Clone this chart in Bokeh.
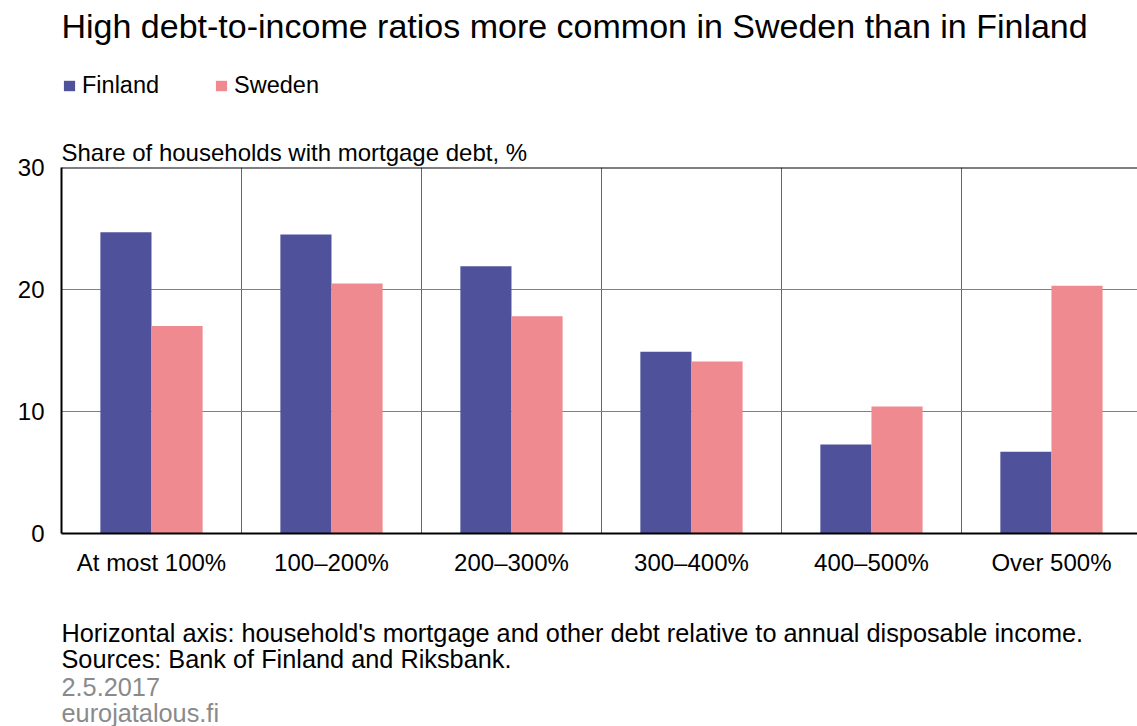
from bokeh.plotting import figure
from bokeh.layouts import column
from bokeh.models import Span, FixedTicker, Legend, LegendItem, Label
from bokeh.embed import file_html
from bokeh.resources import INLINE

categories = ["At most 100%", "100–200%", "200–300%", "300–400%", "400–500%", "Over 500%"]
finland = [24.7, 24.5, 21.9, 14.9, 7.3, 6.7]
sweden = [17.0, 20.5, 17.8, 14.1, 10.4, 20.3]
y_ticks = [0, 10, 20, 30]
series_names = ["Finland", "Sweden"]

title_text = "High debt-to-income ratios more common in Sweden than in Finland"
axis_title = "Share of households with mortgage debt, %"
footer_lines = ["Horizontal axis: household's mortgage and other debt relative to annual disposable income.",
                "Sources: Bank of Finland and Riksbank."]
footer_gray = ["2.5.2017", "eurojatalous.fi"]

FONT = "Liberation Sans"
BLUE = "#4F529B"
PINK = "#EF8A90"
W = 1137
H_HEAD, H_MAIN, H_FOOT = 130, 460, 136


def blank(h):
    f = figure(width=W, height=h, output_backend="svg", toolbar_location=None, title=None,
               x_axis_type=None, y_axis_type=None, x_range=(0, W), y_range=(0, h),
               min_border=0, min_border_left=0, min_border_right=0,
               min_border_top=0, min_border_bottom=0)
    f.outline_line_color = None
    f.background_fill_color = "white"
    f.border_fill_color = "white"
    return f


def lab(fig, x, y, t, size, color="black"):
    fig.add_layout(Label(x=x, y=y, x_units="screen", y_units="screen", text=t,
                         text_font=FONT, text_font_size=size, text_baseline="middle",
                         text_color=color))


# ---------- header: title + legend (frames are aligned with the chart's frame) ----------
head = blank(H_HEAD)
lab(head, 0, H_HEAD - 25, title_text, "34px")
# zero-height swatch renderers, used only to give the legend its colours
g1 = head.vbar(x=[0], top=[0], width=1, fill_color=BLUE, line_color=None)
g2 = head.vbar(x=[0], top=[0], width=1, fill_color=PINK, line_color=None)
legend = Legend(items=[LegendItem(label=series_names[0], renderers=[g1]),
                       LegendItem(label=series_names[1], renderers=[g2])],
                orientation="horizontal", location=(1, 31),
                glyph_width=14, glyph_height=13, spacing=55, padding=0, margin=0,
                label_text_font=FONT, label_text_font_size="23.5px", label_standoff=6,
                label_text_color="black",
                border_line_color=None, background_fill_alpha=0)
head.add_layout(legend, "center")

# ---------- main chart ----------
p = figure(width=W, height=H_MAIN, output_backend="svg", toolbar_location=None,
           title=axis_title,
           x_range=(0.5, len(categories) + 0.478), y_range=(0, 30),
           min_border_left=61, min_border_right=0, min_border_top=37, min_border_bottom=57)
p.outline_line_color = None
p.background_fill_color = "white"
p.border_fill_color = "white"
p.title.align = "left"
p.title.text_font = FONT
p.title.text_font_size = "24px"
p.title.text_font_style = "normal"
p.title.text_color = "black"
p.title.standoff = 3

pos = list(range(1, len(categories) + 1))
bw = 0.284
p.vbar(x=[x - bw / 2 for x in pos], top=finland, width=bw, fill_color=BLUE, line_color=None)
p.vbar(x=[x + bw / 2 for x in pos], top=sweden, width=bw, fill_color=PINK, line_color=None)

p.xaxis.ticker = FixedTicker(ticks=pos)
p.xaxis.major_label_overrides = {i + 1: c for i, c in enumerate(categories)}
p.xaxis.major_tick_line_color = None
p.xaxis.minor_tick_line_color = None
p.xaxis.axis_line_color = "black"
p.xaxis.axis_line_width = 2
p.xaxis.major_label_text_font = FONT
p.xaxis.major_label_text_font_size = "24px"
p.xaxis.major_label_text_color = "black"
p.xaxis.major_label_standoff = 9

p.yaxis.ticker = FixedTicker(ticks=y_ticks)
p.yaxis.major_tick_line_color = None
p.yaxis.minor_tick_line_color = None
p.yaxis.axis_line_color = "black"
p.yaxis.axis_line_width = 2
p.yaxis.major_label_text_font = FONT
p.yaxis.major_label_text_font_size = "24px"
p.yaxis.major_label_text_color = "black"
p.yaxis.major_label_standoff = 11

p.ygrid.ticker = FixedTicker(ticks=[10, 20])
p.ygrid.grid_line_color = "#808080"
p.ygrid.grid_line_width = 1
p.xgrid.ticker = FixedTicker(ticks=[x + 0.5 for x in pos[:-1]])
p.xgrid.grid_line_color = "#666666"
p.xgrid.grid_line_width = 1
p.add_layout(Span(location=30, dimension="width", line_color="black", line_width=2))

# ---------- footer ----------
foot = blank(H_FOOT)
for t, yy in zip(footer_lines, [632, 658]):
    lab(foot, 0, 726 - yy, t, "25.3px")
for t, yy in zip(footer_gray, [686, 712]):
    lab(foot, 0, 726 - yy, t, "25.3px", "#8a8a8a")

layout = column(head, p, foot, spacing=0)
open("out.html", "w").write(file_html(layout, INLINE))
